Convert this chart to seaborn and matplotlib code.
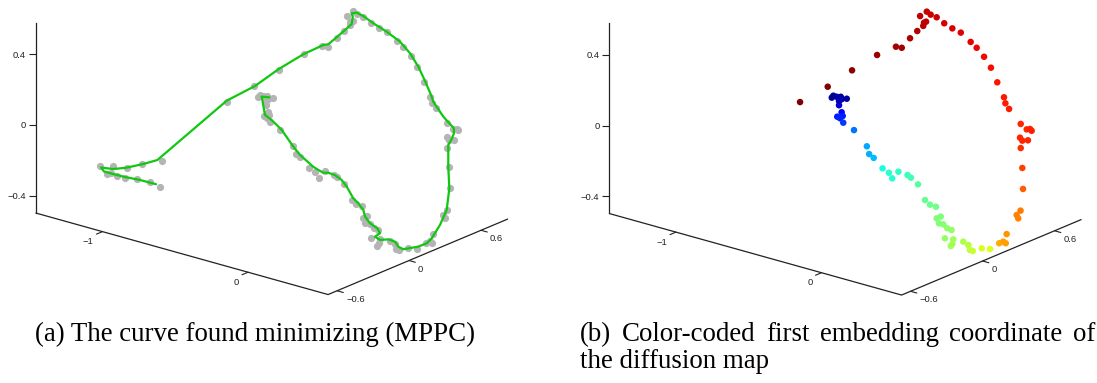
import numpy as np
import pandas as pd
import matplotlib
matplotlib.use("Agg")
import matplotlib.pyplot as plt
import seaborn as sns

# ---------------- data (projected screen coordinates: h = horizontal, z = vertical axis value)
pt_h = [1.264, 1.273, 1.292, 1.315, 1.320, 1.349, 1.305, 1.305,
        1.320, 1.326, 1.295, 1.311, 1.329,
        1.390, 1.463, 1.476, 1.502,
        1.552, 1.588, 1.607, 1.642, 1.694, 1.713, 1.753,
        1.793, 1.821, 1.855, 1.882, 1.859, 1.872, 1.897, 1.919, 1.944, 1.906,
        1.953, 1.948, 1.939, 2.010, 2.039, 2.048, 2.064, 2.115, 2.162,
        2.214, 2.237, 2.251, 2.256, 2.313, 2.322, 2.335, 2.349, 2.345,
        2.336, 2.332, 2.345, 2.377, 2.336, 2.370, 2.389, 2.398,
        2.270, 2.249, 2.241, 2.203, 2.167, 2.128, 2.086, 2.052, 1.996, 1.948,
        1.902, 1.859, 1.825, 1.803, 1.765, 1.799, 1.787, 1.783, 1.749, 1.708,
        1.661, 1.628, 1.521, 1.379, 1.241, 1.084]
pt_z = [0.158, 0.169, 0.163, 0.163, 0.149, 0.152, 0.139, 0.115,
        0.075, 0.054, 0.050, 0.041, 0.016,
        -0.026, -0.118, -0.162, -0.184,
        -0.243, -0.268, -0.300, -0.262, -0.281, -0.296, -0.334,
        -0.423, -0.449, -0.461, -0.517, -0.527, -0.555, -0.561, -0.583, -0.593, -0.640,
        -0.646, -0.672, -0.684, -0.659, -0.678, -0.706, -0.712, -0.697, -0.701,
        -0.668, -0.659, -0.668, -0.616, -0.508, -0.527, -0.483, -0.360, -0.241,
        -0.128, -0.069, -0.086, -0.084, 0.009, -0.022, -0.020, -0.030,
        0.094, 0.126, 0.160, 0.245, 0.328, 0.390, 0.441, 0.474, 0.527, 0.551,
        0.580, 0.614, 0.629, 0.646, 0.621, 0.589, 0.583, 0.565, 0.536, 0.495,
        0.441, 0.447, 0.400, 0.313, 0.220, 0.133]
# first diffusion-map embedding coordinate (colour value)
pt_t = [0.02, 0.02, 0.03, 0.03, 0.04, 0.03, 0.05, 0.07,
        0.13, 0.15, 0.15, 0.16, 0.18,
        0.24, 0.29, 0.30, 0.31,
        0.38, 0.40, 0.40, 0.41, 0.42, 0.43, 0.45,
        0.47, 0.48, 0.49, 0.50, 0.50, 0.51, 0.51, 0.52, 0.53, 0.53,
        0.54, 0.55, 0.55, 0.56, 0.57, 0.58, 0.59, 0.61, 0.62,
        0.73, 0.74, 0.74, 0.75, 0.77, 0.77, 0.78, 0.81, 0.84,
        0.86, 0.87, 0.87, 0.87, 0.87, 0.87, 0.875, 0.875,
        0.88, 0.88, 0.885, 0.89, 0.895, 0.90, 0.905, 0.91, 0.915, 0.92,
        0.925, 0.93, 0.935, 0.94, 0.945, 0.945, 0.945, 0.95, 0.955, 0.96,
        0.965, 0.965, 0.975, 0.985, 0.995, 1.0]

tail_h = [0.366, 0.437, 0.521, 0.605, 0.715, 0.403, 0.426, 0.461, 0.509, 0.576, 0.651, 0.706]
tail_z = [-0.233, -0.233, -0.246, -0.221, -0.204, -0.278, -0.272, -0.288, -0.298, -0.308, -0.323, -0.350]

curve_h = [0.684, 0.593, 0.508, 0.440, 0.389, 0.372, 0.441, 0.517, 0.612, 0.691,
           1.085, 1.245, 1.378, 1.519, 1.633, 1.661, 1.709, 1.756, 1.794, 1.800,
           1.794, 1.822, 1.860, 1.917, 1.993, 2.068, 2.125, 2.172, 2.210, 2.248,
           2.257, 2.314, 2.374, 2.374, 2.361, 2.342, 2.342, 2.348, 2.333, 2.295,
           2.248, 2.220, 2.172, 2.087, 2.058, 2.040, 2.002, 1.955, 1.926, 1.955,
           1.939, 1.898, 1.870, 1.860, 1.831, 1.803, 1.766, 1.737, 1.699, 1.661,
           1.633, 1.605, 1.576, 1.501, 1.463, 1.397, 1.340, 1.302, 1.297, 1.287, 1.283, 1.327]
curve_z = [-0.336, -0.312, -0.295, -0.278, -0.264, -0.241, -0.250, -0.242, -0.221, -0.199,
           0.138, 0.221, 0.316, 0.401, 0.454, 0.458, 0.498, 0.539, 0.573, 0.614,
           0.634, 0.637, 0.618, 0.577, 0.529, 0.473, 0.407, 0.331, 0.250, 0.161,
           0.132, 0.047, -0.019, -0.047, -0.081, -0.113, -0.237, -0.359, -0.482, -0.567,
           -0.643, -0.671, -0.690, -0.705, -0.690, -0.662, -0.649, -0.652, -0.634, -0.614,
           -0.586, -0.558, -0.520, -0.482, -0.444, -0.416, -0.350, -0.312, -0.284, -0.271,
           -0.271, -0.255, -0.237, -0.170, -0.123, -0.028, 0.028, 0.057, 0.085, 0.142, 0.161, 0.157]

z_ticks = [-0.4, 0, 0.4]
z_ticklabels = ["\u22120.4", "0", "0.4"]
x_ticks = [-1, 0]
x_ticklabels = ["\u22121", "0"]
x_range = (-1.46, 0.55)
y_ticks = [-0.6, 0, 0.6]
y_ticklabels = ["\u22120.6", "0", "0.6"]
y_range = (-0.675, 0.825)

caption_a = "(a) The curve found minimizing (MPPC)"
caption_b1 = "(b) Color-coded first embedding coordinate of"
caption_b2 = "the diffusion map"

# ---------------- style
sns.set_theme(style="white")
plt.rcParams['font.family'] = ['Liberation Sans', 'DejaVu Sans']
plt.rcParams['axes.unicode_minus'] = True

W, H = 1097, 383
fig = plt.figure(figsize=(W / 100, H / 100), dpi=100)
fig.patch.set_facecolor("white")
PX = 176.25          # pixels per data unit
AX_H = 310           # axes height in px (from top of figure)
LINE_C = "#222222"
TICK_FS = 6.8

# frame geometry in data units
z_top, z_bot = 0.579, -0.499
B = np.array([0.0, -0.499])     # back-left floor corner
F = np.array([1.660, -0.962])   # front floor corner
R = np.array([2.681, -0.533])   # right floor corner


def setup(x0px, x1px, ox, oy):
    ax = fig.add_axes([x0px / W, 1 - AX_H / H, (x1px - x0px) / W, AX_H / H])
    ax.set_xlim((x0px - ox) / PX, (x1px - ox) / PX)
    ax.set_ylim((oy - AX_H) / PX, oy / PX)
    ax.patch.set_alpha(0)
    for s in ["top", "right", "bottom"]:
        ax.spines[s].set_visible(False)
    ax.spines["left"].set_position(("data", 0))
    ax.spines["left"].set_bounds(z_bot, z_top)
    ax.spines["left"].set_color(LINE_C)
    ax.spines["left"].set_linewidth(0.9)
    ax.set_xticks([])
    ax.set_yticks(z_ticks)
    ax.set_yticklabels(z_ticklabels)
    ax.tick_params(axis="y", direction="out", length=4.7, width=0.8, pad=2.2,
                   colors=LINE_C, labelsize=TICK_FS, left=True)
    # floor axes
    ax.plot([B[0], F[0], R[0]], [B[1], F[1], R[1]], color=LINE_C, lw=0.9,
            solid_capstyle="butt", clip_on=False)
    d_bf = (F - B) / np.linalg.norm(F - B)
    d_fr = (R - F) / np.linalg.norm(R - F)
    tl = 6.5 / PX
    for v, lab in zip(x_ticks, x_ticklabels):
        f = (v - x_range[0]) / (x_range[1] - x_range[0])
        base = B + f * (F - B)
        end = base - d_fr * tl
        ax.plot([base[0], end[0]], [base[1], end[1]], color=LINE_C, lw=0.8, clip_on=False)
        ax.text(base[0] - 9 / PX, base[1] - 10 / PX, lab, ha="right", va="center",
                fontsize=TICK_FS, color=LINE_C)
    for v, lab in zip(y_ticks, y_ticklabels):
        f = (v - y_range[0]) / (y_range[1] - y_range[0])
        base = F + f * (R - F)
        end = base + d_bf * tl
        ax.plot([base[0], end[0]], [base[1], end[1]], color=LINE_C, lw=0.8, clip_on=False)
        ax.text(base[0] + 9 / PX, base[1] - 8.5 / PX, lab, ha="left", va="center",
                fontsize=TICK_FS, color=LINE_C)
    return ax


pts = pd.DataFrame({"h": pt_h, "z": pt_z, "t": pt_t})
tail = pd.DataFrame({"h": tail_h, "z": tail_z})
curve = pd.DataFrame({"h": curve_h, "z": curve_z})

# ---- panel (a)
axa = setup(0, 548, 35.5, 125.0)
grey = pd.concat([pts[["h", "z"]], tail], ignore_index=True)
sns.scatterplot(data=grey, x="h", y="z", ax=axa, color="#b4b4b4", s=27,
                linewidth=0, legend=False, zorder=3, clip_on=False)
sns.lineplot(data=curve, x="h", y="z", ax=axa, sort=False, estimator=None,
             color="#0fc80f", lw=1.6, zorder=4)
axa.set_xlabel("")
axa.set_ylabel("")

# ---- panel (b)
axb = setup(573.5, 1097, 609.0, 125.5)
sns.scatterplot(data=pts, x="h", y="z", hue="t", palette=matplotlib.colormaps["jet"],
                hue_norm=(0, 1), ax=axb, s=22, linewidth=0, legend=False,
                zorder=3, clip_on=False)
axb.set_xlabel("")
axb.set_ylabel("")

# ---- captions
CAP_FS = 19.4
cap_font = dict(family=["Liberation Serif", "DejaVu Serif"], fontsize=CAP_FS, color="black")
fig.text(35 / W, 1 - 341 / H, caption_a, ha="left", va="baseline", **cap_font)

words = caption_b1.split()
wtexts = [fig.text(0, 1 - 341 / H, w, ha="left", va="baseline", **cap_font) for w in words]
fig.text(580 / W, 1 - 368 / H, caption_b2, ha="left", va="baseline", **cap_font)
fig.canvas.draw()
rend = fig.canvas.get_renderer()
widths = [t.get_window_extent(rend).width for t in wtexts]
gap = max(3.0, (1095 - 580 - sum(widths)) / (len(words) - 1))
xpos = 580.0
for t, w in zip(wtexts, widths):
    t.set_x(xpos / W)
    xpos += w + gap

fig.savefig("out.png", dpi=100, facecolor="white")
